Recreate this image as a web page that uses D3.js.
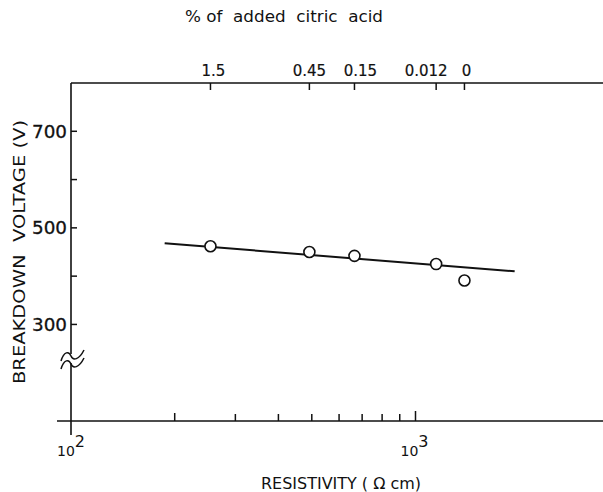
<!DOCTYPE html>
<html>
<head>
<meta charset="utf-8">
<script src="https://cdn.jsdelivr.net/npm/d3@7"></script>
<style>
  html, body { margin: 0; padding: 0; background: #fff; }
  svg { display: block; }
  text { font-family: "DejaVu Sans", "Liberation Sans", sans-serif; fill: #111; }
</style>
</head>
<body>
<svg id="chart" width="603" height="492"></svg>
<script>
// ---- data ----
const resistivity = [254, 492, 665, 1148, 1387];       // Ω cm
const voltage = [462, 450, 442, 425, 391];              // V
const citricLabels = ["1.5", "0.45", "0.15", "0.012", "0"]; // % of added citric acid
const fitX = [187, 1940];
const fitY = [468, 410];
const yTicksMajor = [300, 500, 700];
const yTicksMinor = [400, 600];
const xTicksMinor = [200, 300, 400, 500, 600, 700, 800, 900];
const xTicksMajor = [100, 1000];

const svg = d3.select("#chart");
const ink = "#111";

const x = d3.scaleLog().domain([100, 1000]).range([71, 415.5]);
const y = d3.scaleLinear().domain([100, 800]).range([421, 83]);

const xLeft = 57, xRight = 603;
const yTop = 83, yBottom = 421;

// frame lines
svg.append("line").attr("x1", x(100)).attr("x2", xRight).attr("y1", yTop).attr("y2", yTop)
  .attr("stroke", ink).attr("stroke-width", 1.5);
svg.append("line").attr("x1", xLeft).attr("x2", xRight).attr("y1", yBottom).attr("y2", yBottom)
  .attr("stroke", ink).attr("stroke-width", 1.5);
// left axis with break
svg.append("line").attr("x1", x(100)).attr("x2", x(100)).attr("y1", yTop).attr("y2", 354)
  .attr("stroke", ink).attr("stroke-width", 1.6);
svg.append("line").attr("x1", x(100)).attr("x2", x(100)).attr("y1", 363).attr("y2", 435)
  .attr("stroke", ink).attr("stroke-width", 1.6);

// break symbol
const bx = x(100);
[352, 360].forEach(b => {
  svg.append("path")
    .attr("d", `M${bx - 10},${b + 9} C${bx - 7},${b - 1} ${bx - 2},${b - 1} ${bx},${b + 4} S${bx + 8},${b + 8} ${bx + 13},${b - 2}`)
    .attr("fill", "none").attr("stroke", ink).attr("stroke-width", 1.5);
});

// y ticks
const yAxisG = svg.append("g");
yTicksMajor.concat(yTicksMinor).forEach(v => {
  yAxisG.append("line").attr("x1", x(100)).attr("x2", x(100) + 6)
    .attr("y1", y(v)).attr("y2", y(v)).attr("stroke", ink).attr("stroke-width", 1.5);
});
yTicksMajor.forEach(v => {
  yAxisG.append("text").attr("x", 67).attr("y", y(v) + 6.5)
    .attr("text-anchor", "end").attr("font-size", 17)
    .attr("textLength", 35).attr("lengthAdjust", "spacingAndGlyphs")
    .attr("stroke", ink).attr("stroke-width", 0.3)
    .text(v);
});

// bottom ticks
xTicksMinor.forEach(v => {
  svg.append("line").attr("x1", x(v)).attr("x2", x(v))
    .attr("y1", yBottom).attr("y2", yBottom - (v === 200 ? 8 : 7))
    .attr("stroke", ink).attr("stroke-width", 1.5);
});
svg.append("line").attr("x1", x(1000)).attr("x2", x(1000))
  .attr("y1", yBottom).attr("y2", yBottom - 10).attr("stroke", ink).attr("stroke-width", 1.5);

// bottom tick labels 10^2, 10^3
xTicksMajor.forEach((v, i) => {
  const exp = Math.round(Math.log10(v));
  const cx = x(v);
  const g = svg.append("text").attr("font-size", 14);
  g.append("tspan").attr("x", i === 0 ? cx - 14 : cx - 15).attr("y", 456).text("10");
  g.append("tspan").attr("font-size", 16).attr("dy", -9).attr("dx", 0).text(exp);
});

// top ticks and labels (label nudges as in the original lettering)
const topLabelNudge = [3, 0, 6, -10, 2];
resistivity.forEach((r, i) => {
  svg.append("line").attr("x1", x(r)).attr("x2", x(r)).attr("y1", yTop).attr("y2", yTop + 7)
    .attr("stroke", ink).attr("stroke-width", 1.5);
  svg.append("text").attr("x", x(r) + topLabelNudge[i]).attr("y", 76).attr("text-anchor", "middle")
    .attr("font-size", 15).attr("stroke", ink).attr("stroke-width", 0.2)
    .text(citricLabels[i]);
});

// fit line
const line = d3.line().x(d => x(d[0])).y(d => y(d[1]));
svg.append("path").datum(d3.zip(fitX, fitY)).attr("d", line)
  .attr("fill", "none").attr("stroke", ink).attr("stroke-width", 2);

// data points
svg.selectAll("circle.pt").data(d3.zip(resistivity, voltage)).join("circle")
  .attr("class", "pt")
  .attr("cx", d => x(d[0])).attr("cy", d => y(d[1])).attr("r", 5.5)
  .attr("fill", "#fff").attr("stroke", ink).attr("stroke-width", 1.6);

// titles
svg.append("text").attr("x", 284).attr("y", 22).attr("text-anchor", "middle")
  .attr("font-size", 16).attr("textLength", 198).attr("lengthAdjust", "spacingAndGlyphs")
  .attr("xml:space", "preserve")
  .text("% of  added  citric  acid");

svg.append("text").attr("x", 341).attr("y", 489).attr("text-anchor", "middle")
  .attr("font-size", 16).attr("textLength", 160).attr("lengthAdjust", "spacingAndGlyphs")
  .text("RESISTIVITY ( Ω cm)");

svg.append("text").attr("transform", "translate(25,252) rotate(-90)")
  .attr("text-anchor", "middle").attr("font-size", 16)
  .attr("textLength", 264).attr("lengthAdjust", "spacingAndGlyphs")
  .attr("xml:space", "preserve")
  .text("BREAKDOWN  VOLTAGE (V)");
</script>
</body>
</html>
